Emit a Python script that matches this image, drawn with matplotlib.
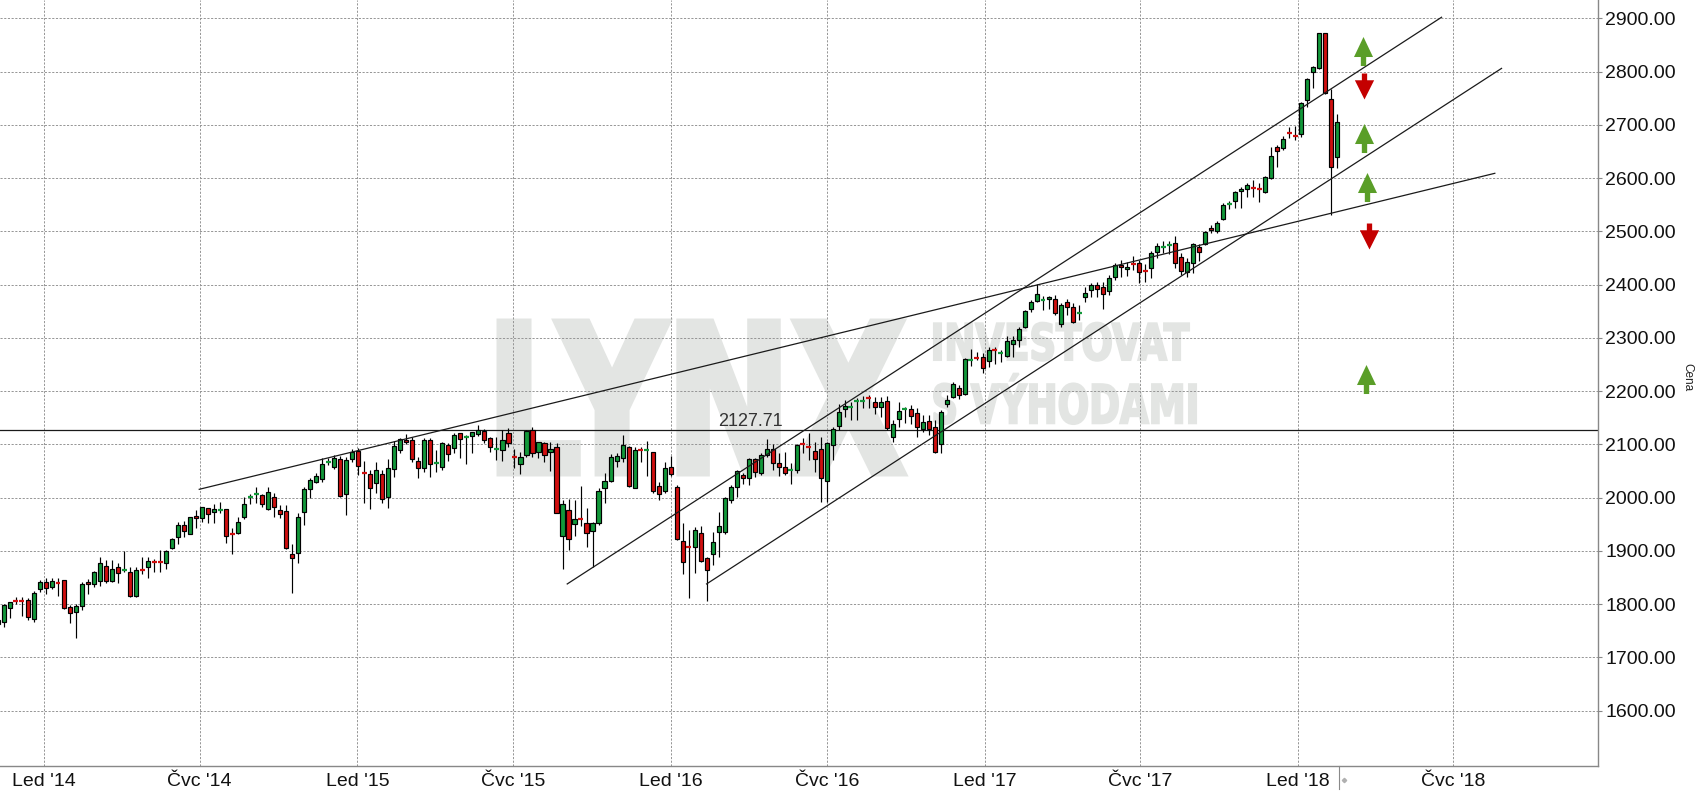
import matplotlib
matplotlib.use('Agg')
import matplotlib.pyplot as plt
import matplotlib.dates as mdates
from matplotlib import font_manager
from matplotlib.font_manager import FontProperties
from matplotlib.textpath import TextPath
from matplotlib.patches import PathPatch
from matplotlib.path import Path
from matplotlib.transforms import Affine2D, blended_transform_factory
import numpy as np
import pandas as pd

# weekly candles, Nov 2013 - Feb 2018 (one candle per week, dated on Friday)
opens = [
    1762, 1767, 1793.5, 1807.5, 1807.5, 1807, 1771.6, 1827.9, 1841, 1832,
    1840, 1845, 1794, 1785, 1796, 1841, 1837, 1843.6, 1871, 1843.6,
    1869, 1864, 1860, 1816, 1865.5, 1869, 1879, 1880, 1877, 1906,
    1925.5, 1948, 1931, 1965.6, 1961, 1981, 1973, 1977, 1978, 1931.5,
    1933, 1964.4, 2001.5, 2006, 2005, 1979.4, 2000.6, 1976.9, 1975, 1894.2,
    1895.4, 1972.5, 2015.6, 2028.8, 2034.4, 2067, 2056.9, 2072.6, 2006.2, 2071.9,
    2088.2, 2047.5, 2043.8, 2026.9, 2043.8, 2001.8, 2053.2, 2089, 2107.6, 2107.6,
    2068.8, 2055, 2107.6, 2065, 2056.9, 2098.2, 2092.6, 2120.7, 2114, 2115.7,
    2119.5, 2124.5, 2112.6, 2091.5, 2088.8, 2121.4, 2078, 2062.5, 2079.4, 2126.4,
    2085.1, 2102, 2086.3, 2094.5, 1928, 1976.2, 1950, 1960, 1953.1, 1937.6,
    1953.1, 2017.6, 2031.3, 2069.6, 2075.1, 2095.8, 2018.8, 2091, 2089.5, 2085.1,
    2022.6, 2012.6, 2057, 2020.7, 1918, 1908.5, 1907.4, 1933, 1886.1, 1894.3,
    1936.2, 1936.2, 1995.7, 2019.5, 2042.6, 2037.6, 2072, 2047, 2080, 2091,
    2065, 2058, 2051.5, 2052, 2100.8, 2096.5, 2087.6, 2090.7, 2031, 2098.9,
    2135.2, 2165.8, 2170.3, 2181, 2181.7, 2187, 2179, 2170, 2180.9, 2114.5,
    2148.3, 2165.3, 2165.8, 2158.3, 2128.9, 2144.6, 2132, 2100, 2175.2, 2188.4,
    2205.3, 2194, 2257.3, 2263.3, 2263.5, 2256.6, 2277.7, 2270.5, 2266, 2288.5,
    2296, 2321, 2353.6, 2369.9, 2371.2, 2372.3, 2373.6, 2325.4, 2366.7, 2357.3,
    2346.8, 2376.1, 2389.3, 2398.7, 2394.9, 2387.4, 2413.7, 2437.5, 2428.7, 2440,
    2440, 2426.1, 2430.6, 2460.6, 2470.8, 2474.5, 2477.5, 2451.2, 2424.3, 2440,
    2470, 2476.3, 2507, 2501.3, 2522.6, 2550.9, 2556.4, 2576.4, 2578.9, 2582.5,
    2580.7, 2573.3, 2600.2, 2657.8, 2655.9, 2685.2, 2680.2, 2682.2, 2746.7, 2799.9,
    2806.1, 2871.8, 2749.2, 2639,
]
highs = [
    1772, 1800, 1805, 1814, 1814, 1812, 1825, 1845, 1850, 1849,
    1850, 1846, 1799, 1800, 1841, 1847, 1863, 1888, 1883, 1883,
    1877, 1900, 1870, 1870, 1888, 1889, 1885, 1902, 1902, 1923.5,
    1954.3, 1956.8, 1964, 1977, 1983, 1981, 1989, 1991, 1978, 1942.4,
    1964, 2001.9, 2007, 2019.4, 2007, 2019.4, 2008, 1986.2, 1986.2, 1913,
    1970.6, 2020, 2036.3, 2046.9, 2073.8, 2073.8, 2080, 2078, 2077, 2091,
    2092.6, 2069.4, 2052, 2067.6, 2052, 2072, 2107, 2111.4, 2119.5, 2114.5,
    2077, 2112.6, 2111.4, 2089.5, 2105, 2103.2, 2122, 2122, 2117.6, 2123.9,
    2136.4, 2128.3, 2114.5, 2114.5, 2127, 2130.1, 2090.7, 2086.3, 2127, 2132,
    2105, 2105, 2105, 2103.2, 1995.7, 1996.9, 1995.6, 2021.9, 1980, 1955,
    2017.6, 2047, 2082, 2083.2, 2117.7, 2097, 2095.8, 2095.8, 2107, 2086.4,
    2030.1, 2067.6, 2078.3, 2023.8, 1953.1, 1939.3, 1945.6, 1946.8, 1889, 1936.2,
    1973.8, 2001.9, 2023.8, 2052, 2045.7, 2073.9, 2075, 2083.7, 2111, 2099.9,
    2083.8, 2084.9, 2064.5, 2100, 2111.4, 2120.6, 2105, 2113, 2105, 2133.3,
    2175.2, 2183.4, 2180, 2186.5, 2190.8, 2192.7, 2189.6, 2189.6, 2190.9, 2145.8,
    2180.2, 2170.8, 2174, 2167.7, 2155.2, 2155.2, 2145.8, 2164.5, 2192.7, 2218,
    2211.5, 2261.6, 2278.5, 2274, 2271, 2282.2, 2283.5, 2277.2, 2303.5, 2303.5,
    2321, 2352.3, 2371, 2400.5, 2378.6, 2378.6, 2380.5, 2366.1, 2372.3, 2364.8,
    2361.7, 2396.2, 2403.7, 2405.6, 2405.6, 2418.1, 2440, 2446.2, 2443.1, 2453.7,
    2446.2, 2438.7, 2463.8, 2477.5, 2482.5, 2482.5, 2491.3, 2458.8, 2449.4, 2478.8,
    2476.3, 2501.3, 2511.9, 2519.5, 2552.6, 2557, 2575.8, 2582.7, 2590.2, 2596.4,
    2590.2, 2604, 2657.8, 2662.1, 2679, 2695.3, 2697, 2743, 2788.6, 2810.5,
    2871.8, 2871.8, 2766.7, 2720.4,
]
lows = [
    1746, 1757, 1775, 1800, 1777, 1770, 1767, 1823, 1820, 1828,
    1815, 1791, 1765, 1737, 1790, 1819, 1833, 1835, 1839, 1841,
    1840, 1861, 1813, 1813, 1857, 1850, 1861, 1861, 1867, 1903.6,
    1913, 1925.5, 1931, 1942.4, 1955, 1952, 1953, 1970.6, 1915.5, 1893.6,
    1931.8, 1960.6, 1988.7, 1989.4, 1983.1, 1976.9, 1964.4, 1961, 1903.6, 1820.4,
    1878, 1949, 2000, 2026.9, 2030, 2061.3, 2053.2, 2001.8, 1967.4, 2067.6,
    2042.5, 1990.6, 1978.7, 2008.1, 1989.3, 1980, 2038, 2083.2, 2100.1, 2067.6,
    2037.5, 2048.8, 2039.4, 2047.5, 2051.9, 2069.4, 2083.2, 2075.1, 2062.5, 2083.2,
    2115.7, 2102, 2086.3, 2070.7, 2069.4, 2095.7, 2055, 2043.8, 2077, 2077,
    2073.8, 2067.6, 2050, 1970.6, 1866, 1901.8, 1928, 1946.8, 1908, 1870.5,
    1948.7, 1989.4, 2030.1, 2057, 2067.6, 2020.7, 2017.6, 2066.4, 2040.7, 2008.2,
    1995.7, 2009.4, 2040.7, 1920.5, 1856.7, 1811, 1858, 1878.6, 1806.7, 1873.6,
    1889, 1931, 1989.4, 2001.9, 2025.7, 2023.8, 2039, 2043, 2076, 2052,
    2040.5, 2043, 2025.9, 2047, 2083.2, 2070.7, 2048.8, 1991.5, 1991.7, 2070.7,
    2127, 2152, 2145.8, 2145.8, 2167.7, 2167.7, 2157.1, 2152.1, 2127, 2105.1,
    2133.3, 2139.6, 2138.3, 2114.5, 2123.9, 2117.7, 2083.2, 2084, 2170.8, 2186.5,
    2184.6, 2192.7, 2247.2, 2258.5, 2233.4, 2244.7, 2251, 2255.3, 2264.7, 2264.7,
    2283.5, 2317.9, 2349.2, 2368, 2352.3, 2353.6, 2343, 2321, 2342.9, 2327.3,
    2333.6, 2368, 2377.4, 2377.4, 2353.6, 2380.5, 2408.7, 2415, 2416.2, 2427.5,
    2403.7, 2405.6, 2411.8, 2449.4, 2458.8, 2457.5, 2430.6, 2418.1, 2415, 2421.2,
    2445, 2474.4, 2496.3, 2496.3, 2521.3, 2541.4, 2543.2, 2543.2, 2565.1, 2565.1,
    2555.7, 2571.4, 2597.7, 2621.5, 2652.8, 2674.7, 2672, 2676.5, 2734.2, 2768.6,
    2805, 2758, 2530.7, 2618.4,
]
closes = [
    1770, 1798, 1803.5, 1806, 1806, 1776.6, 1820.4, 1841, 1831, 1843,
    1838, 1792, 1783, 1797, 1837, 1837, 1860, 1876.7, 1843.6, 1865.5,
    1858, 1865.5, 1816, 1864, 1864, 1880.5, 1878, 1878.5, 1900, 1922.4,
    1948, 1936.8, 1963, 1961.2, 1983, 1968.7, 1978.7, 1978, 1928, 1930.5,
    1953.7, 1988.1, 2002.5, 2007, 1987.5, 2010, 1983, 1968.7, 1906, 1886,
    1963.7, 2015.7, 2033.1, 2040.6, 2062.5, 2068, 2073.8, 2003.7, 2070.7, 2086.3,
    2059.4, 2046, 2018.7, 2051.3, 1996.8, 2055, 2097, 2109.5, 2104.5, 2072,
    2055, 2107.6, 2063.2, 2066.5, 2102, 2081.3, 2117, 2109.5, 2115, 2122.6,
    2127, 2107.6, 2094.5, 2092.5, 2107.6, 2102, 2076.5, 2075.7, 2125.1, 2083.2,
    2103.9, 2080.1, 2090.7, 1971.8, 1987.4, 1921.8, 1959.3, 1958.8, 1933.1, 1951.8,
    2013.2, 2031.3, 2075.8, 2078.3, 2098.3, 2022.6, 2088.9, 2089.5, 2091, 2012.6,
    2006.3, 2056.4, 2044.5, 1921.8, 1879.9, 1907.5, 1939.3, 1880.5, 1864, 1916.2,
    1946.2, 1998.8, 2020.7, 2050.1, 2036.3, 2072, 2047.6, 2080.7, 2091.6, 2065.3,
    2057.1, 2046.6, 2052.3, 2099, 2099.5, 2095.5, 2072, 2036.3, 2102, 2128.3,
    2160.2, 2172.7, 2171.3, 2182, 2182.7, 2186, 2170.8, 2179, 2130.2, 2137.7,
    2163.3, 2166.3, 2153.3, 2133.3, 2141.4, 2128.3, 2086.4, 2161.4, 2183.4, 2212.8,
    2192.7, 2259.7, 2258.3, 2262.3, 2242.8, 2277.2, 2276.7, 2271.5, 2294.1, 2296,
    2316.7, 2350.5, 2367.3, 2382.4, 2372.2, 2376.1, 2346.1, 2361.1, 2357.3, 2330.4,
    2347.8, 2384.9, 2398.7, 2391.2, 2382.4, 2413.1, 2436.2, 2432.5, 2432.5, 2439,
    2424.3, 2425.1, 2458.8, 2472.5, 2471.8, 2475.5, 2441.2, 2426.2, 2443.1, 2475.6,
    2461.9, 2498.2, 2502.6, 2516.3, 2549.5, 2551.9, 2573.3, 2580.2, 2586.4, 2581.5,
    2579.7, 2601.4, 2640.9, 2651.5, 2674, 2684.2, 2679.2, 2740.4, 2785.5, 2809.2,
    2871.8, 2760.4, 2620.2, 2706,
]
first_week = '2013-11-08'

# drawn trend lines (start, end)
trend_dates = [('2014-06-30 15:00', '2018-08-18 14:00'),
               ('2015-09-02 12:00', '2018-06-17 12:00'),
               ('2016-02-11 22:00', '2018-08-26 10:00')]
trend_prices = [(2015.7, 2609), (1838, 2902), (1838, 2806)]

level = 2127.71
level_label_date = '2016-04-03'

# signal arrows to the right of the last candle
arrow_dates = ['2018-03-17 14:00', '2018-03-18 14:00', '2018-03-19 12:00',
               '2018-03-22 10:00', '2018-03-24 10:00', '2018-03-21 17:00']
arrow_prices = [2839.5, 2773.5, 2675.6, 2583.6, 2491.8, 2223.7]
arrow_up = [True, False, True, True, False, True]

xtick_dates = ['2014-01-01', '2014-07-01', '2015-01-01', '2015-07-01', '2016-01-01',
               '2016-07-01', '2017-01-01', '2017-07-01', '2018-01-01', '2018-07-01']
xtick_labels = ["Led '14", "Čvc '14", "Led '15", "Čvc '15", "Led '16",
                "Čvc '16", "Led '17", "Čvc '17", "Led '18", "Čvc '18"]
yticks = [1600, 1700, 1800, 1900, 2000, 2100, 2200, 2300, 2400, 2500, 2600, 2700, 2800, 2900]
now_date = '2018-02-18 12:00'

GREEN = '#12983a'
RED = '#d00f0f'
WM = '#e3e5e3'

names = {f.name for f in font_manager.fontManager.ttflist}
narrow = 'Liberation Sans Narrow' if 'Liberation Sans Narrow' in names else None
plt.rcParams['font.family'] = ['Liberation Sans', 'DejaVu Sans']

W, H = 1703, 797
fig = plt.figure(figsize=(W / 100, H / 100), dpi=100, facecolor='white')
ax = fig.add_axes([0, 31 / H, 1597.7 / W, 766 / H])

x = mdates.date2num(pd.date_range(first_week, periods=len(closes), freq='W-FRI'))
o = np.array(opens, float)
h = np.array(highs, float)
l = np.array(lows, float)
c = np.array(closes, float)
cols = np.where(c >= o, GREEN, RED)
flat = np.abs(c - o) < 2.6
body = ~flat

ax.vlines(x, l, h, color='black', lw=0.85, zorder=3)
ax.bar(x[body], np.abs(c - o)[body], bottom=np.minimum(o, c)[body], width=4.8,
       color=cols[body], edgecolor='black', linewidth=0.85, zorder=4)
ax.hlines((o + c)[flat] / 2, x[flat] - 2.9, x[flat] + 2.9, colors=cols[flat],
          lw=1.6, zorder=4)

# trend lines and level
for (d0, d1), (p0, p1) in zip(trend_dates, trend_prices):
    ax.plot(mdates.datestr2num([d0, d1]), [p0, p1], color='#1a1a1a', lw=0.9, zorder=5)
ax.axhline(level, color='#1a1a1a', lw=0.9, zorder=2.5)
ax.annotate(f'{level:.2f}', xy=(mdates.datestr2num(level_label_date), level),
            xytext=(0, 2.5), textcoords='offset points', ha='center', va='baseline',
            fontsize=13, color='#333333', zorder=6)

# arrows as custom markers
up_path = Path([(0, 0.5), (0.328, -0.19), (0.092, -0.19), (0.092, -0.5),
                (-0.092, -0.5), (-0.092, -0.19), (-0.328, -0.19), (0, 0.5)])
down_path = Path([(0, -0.5), (0.371, 0.24), (0.102, 0.24), (0.102, 0.5),
                  (-0.102, 0.5), (-0.102, 0.24), (-0.371, 0.24), (0, -0.5)])
for d, p, up in zip(arrow_dates, arrow_prices, arrow_up):
    ax.plot(mdates.datestr2num(d), p, marker=up_path if up else down_path,
            markersize=20.9 if up else 18.7, color='#5a9e28' if up else '#c40000',
            markeredgewidth=0, ls='none', zorder=6)

# watermark
wm_font = FontProperties(family=narrow or 'DejaVu Sans', weight='bold')


def stamp(text, x0, y0, x1, y1, stroke):
    tp = TextPath((0, 0), text, size=100, prop=wm_font)
    bb = tp.get_extents()
    tr = (Affine2D().translate(-bb.x0, -bb.y0)
          .scale((x1 - x0) / bb.width / W, (y1 - y0) / bb.height / H)
          .translate(x0 / W, 1 - y1 / H)) + fig.transFigure
    ax.add_patch(PathPatch(tp, transform=tr, facecolor=WM, edgecolor=WM,
                           linewidth=stroke, joinstyle='miter', zorder=0.2, clip_on=False))


stamp('LYNX', 500, 322, 903, 473, 5)
stamp('INVESTOVAT', 934, 322.7, 1189, 360.7, 1.5)
stamp('S VÝHODAMI', 934, 373.7, 1196, 424, 1.5)

# axes
ax.set_xlim(mdates.datestr2num('2014-01-01') - 51.6, mdates.datestr2num('2018-01-01') + 349.5)
ax.set_ylim(1496.2, 2934.4)
ax.set_axisbelow(True)
ax.grid(True, color='#959595', linestyle=(0, (2.2, 1.6)), lw=0.7)
ax.set_xticks(mdates.datestr2num(xtick_dates))
ax.set_xticklabels(xtick_labels, fontsize=16.4 if narrow else 14,
                   family=[narrow] if narrow else ['Liberation Sans'])
ax.set_yticks(yticks)
ax.set_yticklabels([f'{v:.2f}' for v in yticks], fontsize=14)
ax.yaxis.tick_right()
ax.tick_params(axis='x', length=0, pad=5, labelcolor='#111111')
ax.tick_params(axis='y', length=3, pad=2.5, color='#888888', labelcolor='#111111')
for s in ['top', 'left']:
    ax.spines[s].set_visible(False)
for s in ['right', 'bottom']:
    ax.spines[s].set_color('#888888')
    ax.spines[s].set_linewidth(1)

# current-time marker under the axis
tr = blended_transform_factory(ax.transData, ax.transAxes)
nd = mdates.datestr2num(now_date)
ax.plot([nd, nd], [0, -0.03], transform=tr, clip_on=False, color='#8a8a8a', lw=0.8)
ax.plot(nd + 5, -0.018, transform=tr, clip_on=False, marker='D', markersize=2.2,
        color='#b0b0b0', ls='none')

fig.text(1687 / W, 1 - 377 / H, 'Cena', rotation=270, fontsize=8.5,
         ha='center', va='center', color='#222222')

fig.savefig('out.png', dpi=100, facecolor='white')
